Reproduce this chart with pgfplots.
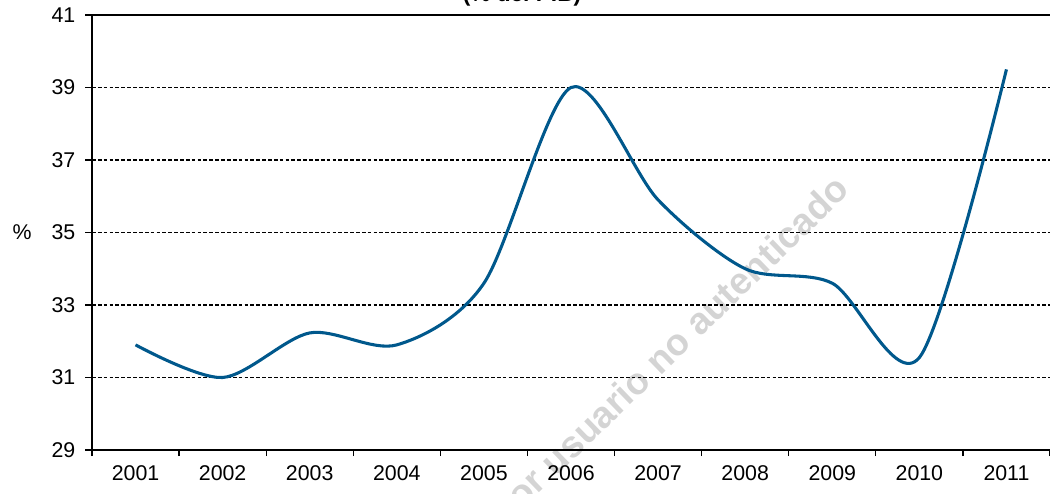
\documentclass[border=0pt]{standalone}
\usepackage{pgfplots}
\pgfplotsset{compat=1.18}
\usepackage{fontspec}
\setmainfont{Liberation Sans}
\definecolor{lineblue}{RGB}{0,88,140}
\begin{document}
\begin{tikzpicture}
\useasboundingbox (-69pt,-32.25pt) rectangle (718.5pt,337.5pt);
\clip (-69pt,-32.25pt) rectangle (718.5pt,337.5pt);
\node[font=\bfseries\fontsize{28}{32}\selectfont, text=black!17, rotate=44, anchor=base east] at (572pt,196pt) {por usuario no autenticado};
\begin{axis}[
  at={(0,0)}, anchor=south west,
  scale only axis, width=718.5pt, height=326.25pt,
  xmin=0.5, xmax=11.5, ymin=29, ymax=41,
  axis x line*=bottom, axis y line*=left,
  axis line style={line width=1.4pt, -},
  xtick={1,...,11},
  xticklabels={2001,2002,2003,2004,2005,2006,2007,2008,2009,2010,2011},
  major x tick style={draw=none},
  minor xtick={0.5,1.5,...,11.5},
  minor tick length=4.5pt,
  minor x tick style={line width=1pt, black},
  ytick={29,31,...,41},
  major tick length=5pt,
  y tick style={line width=1pt, black},
  tick align=outside,
  ymajorgrids,
  grid style={black, line width=0.9pt, dash pattern=on 2.8pt off 1.6pt},
  tick label style={font=\fontsize{16}{18}\selectfont},
  /pgf/number format/assume math mode=true,
  yticklabel style={xshift=-4pt},
  xticklabel style={yshift=-3pt},
  clip=false,
]
\addplot[lineblue, line width=2.3pt, smooth, tension=0.5] coordinates {
 (1,31.9) (2,31.0) (3,32.23) (4,31.9) (5,33.6) (6,39.0)
 (7,35.9) (8,34.0) (9,33.6) (10,31.55) (11,39.5)
};
\end{axis}
\draw[line width=1.4pt] (0,326.25pt) -- (718.5pt,326.25pt);
\node[font=\fontsize{16}{18}\selectfont] at (-52.5pt,163.1pt) {\%};
\node[font=\bfseries\fontsize{17}{20}\selectfont, anchor=base] at (322.5pt,336pt) {(\% del PIB)};
\end{tikzpicture}
\end{document}
